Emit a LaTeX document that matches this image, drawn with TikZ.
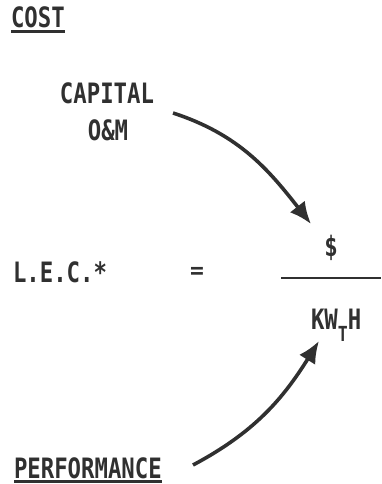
\documentclass[tikz,border=0pt]{standalone}
\usepackage{graphicx}
\usepackage{fontspec}
\newfontfamily\typefont{DejaVu Sans Mono}
\usetikzlibrary{arrows.meta}
\definecolor{ink}{HTML}{303030}
\newcommand{\tallt}[1]{\scalebox{0.97}[1.22]{#1}}
\begin{document}
\begin{tikzpicture}[x=1pt,y=-1pt,
  lbl/.style={inner sep=0pt,outer sep=0pt,text=ink,font=\typefont\bfseries\fontsize{23}{23}\selectfont},
  uline/.style={draw=ink,line width=2.5pt},
  curvearrow/.style={draw=ink,line width=3.6pt,-{Latex[length=22pt,width=19pt]}}]
\useasboundingbox (0,0) rectangle (381,484);
% COST
\node[lbl,anchor=base west] (cost) at (11,28) {\tallt{COST}};
\draw[uline] ([yshift=-3.5pt]cost.base west) -- ([yshift=-3.5pt]cost.base east);
% CAPITAL / O&M
\node[lbl,anchor=base] (capital) at (107,104) {\tallt{CAPITAL}};
\node[lbl,anchor=base] (om) at (108,140) {\tallt{O\&M}};
% equation
\node[lbl,anchor=base west] (lec) at (13,282) {\tallt{L.E.C.*}};
\node[lbl] (eq) at (197,273) {=};
\node[lbl,anchor=base] (dollar) at (331,256) {\tallt{\$}};
\coordinate (fl) at (281,278);
\coordinate (fr) at (381,278);
\draw[uline] (fl) -- (fr);
\node[lbl,anchor=base west] (kwh) at (311,329) {\tallt{KW\raisebox{-10pt}{\fontsize{17}{17}\selectfont T}H}};
% arrows
\coordinate (a1s) at (173,113);
\coordinate (a1e) at (311,224);
\draw[curvearrow] (a1s) to[out=-18,in=128] (a1e);
\node[lbl,anchor=base west] (perf) at (14,478) {\tallt{PERFORMANCE}};
\draw[uline] ([yshift=-3.5pt]perf.base west) -- ([yshift=-3.5pt]perf.base east);
\coordinate (a2s) at (193,465);
\coordinate (a2e) at (319,341);
\draw[curvearrow] (a2s) to[out=28,in=-122] (a2e);
\end{tikzpicture}
\end{document}
